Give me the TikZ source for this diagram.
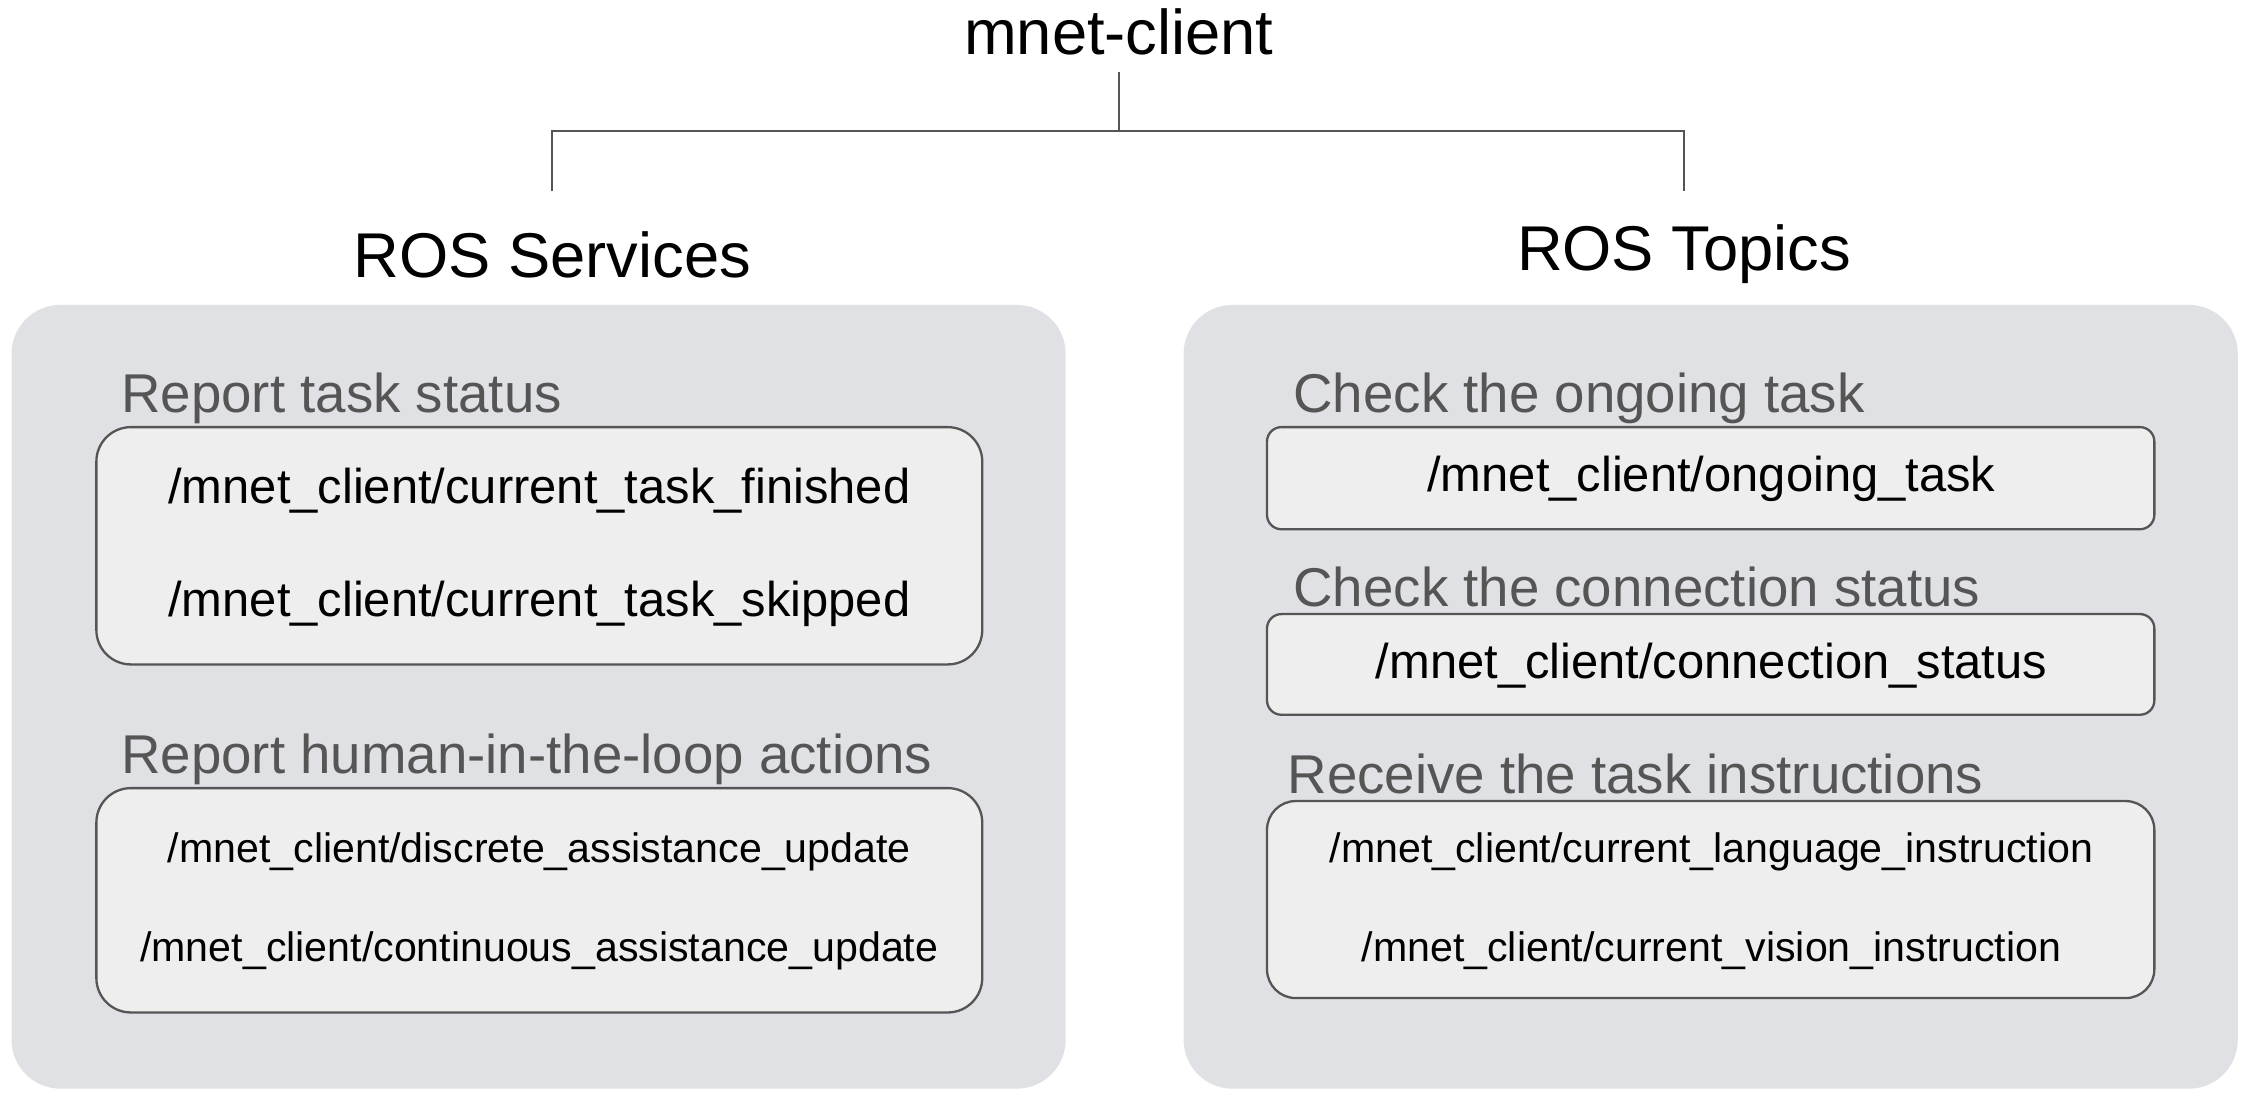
\documentclass[tikz,border=0pt]{standalone}
\usepackage{fontspec}
\setmainfont{Liberation Sans}
\begin{document}
\begin{tikzpicture}[x=0.5pt,y=-0.5pt,
  panel/.style={fill=panelgray,draw=none,rounded corners=17pt},
  inner/.style={fill=innergray,draw=edgegray,line width=0.8pt},
  cat/.style={anchor=base west,text=catgray,font=\fontsize{19pt}{22pt}\selectfont,inner sep=0pt},
  big/.style={font=\fontsize{17pt}{20pt}\selectfont,inner sep=0pt},
  small/.style={font=\fontsize{14.3pt}{17pt}\selectfont,inner sep=0pt},
  head/.style={font=\fontsize{22pt}{26pt}\selectfont,inner sep=0pt},
  tree/.style={draw=edgegray,line width=0.8pt}]
\definecolor{panelgray}{HTML}{E0E1E5}
\definecolor{innergray}{HTML}{EEEEEE}
\definecolor{edgegray}{HTML}{555555}
\definecolor{catgray}{HTML}{555555}
\useasboundingbox (0,0) rectangle (1568,766);
% panels
\path[panel] (8,212) rectangle (741,757);
\path[panel] (823,212) rectangle (1556,757);
% inner boxes
\draw[inner,rounded corners=12pt] (67,297) rectangle (683,462);
\draw[inner,rounded corners=12pt] (67,548) rectangle (683,704);
\draw[inner,rounded corners=5pt] (881,297) rectangle (1498,368);
\draw[inner,rounded corners=5pt] (881,427) rectangle (1498,497);
\draw[inner,rounded corners=10pt] (881,557) rectangle (1498,694);
% headings
\node[head] (root) at (778,22) {mnet-client};
\node[head] (srv) at (384,177) {ROS Services};
\node[head] (top) at (1171,177) {ROS Topics};
\coordinate (r1) at (778,50);
\coordinate (j) at (778,91);
\coordinate (jl) at (384,91);
\coordinate (jr) at (1171,91);
\coordinate (sl) at (384,133);
\coordinate (sr) at (1171,133);
\draw[tree] (r1) -- (j);
\draw[tree] (sl) -- (jl) -- (jr) -- (sr);
% categories
\node[cat] (c1) at (84,287) {Report task status};
\node[cat] (c2) at (84,538) {Report human-in-the-loop actions};
\node[cat] (c3) at (899,287) {Check the ongoing task};
\node[cat] (c4) at (899,422) {Check the connection status};
\node[cat] (c5) at (895,552) {Receive the task instructions};
% items
\node[big] (a1) at (375,341) {/mnet\_client/current\_task\_finished};
\node[big] (a2) at (375,420) {/mnet\_client/current\_task\_skipped};
\node[small] (b1) at (375,592) {/mnet\_client/discrete\_assistance\_update};
\node[small] (b2) at (375,661) {/mnet\_client/continuous\_assistance\_update};
\node[big] (d1) at (1190,333) {/mnet\_client/ongoing\_task};
\node[big] (d2) at (1190,463) {/mnet\_client/connection\_status};
\node[small] (e1) at (1190,592) {/mnet\_client/current\_language\_instruction};
\node[small] (e2) at (1190,661) {/mnet\_client/current\_vision\_instruction};
\end{tikzpicture}
\end{document}
